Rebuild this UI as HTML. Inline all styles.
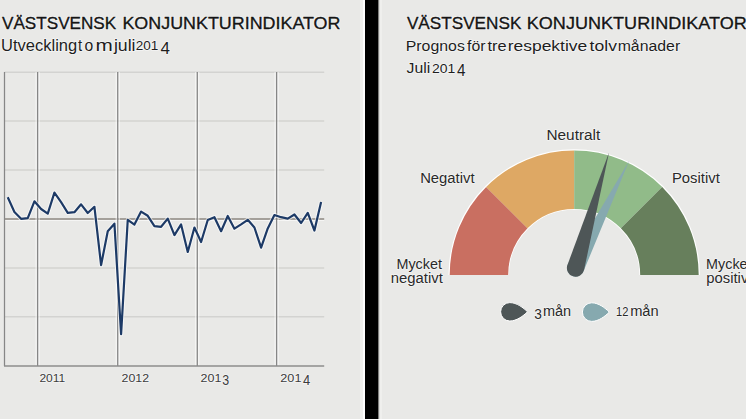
<!DOCTYPE html>
<html><head><meta charset="utf-8"><style>
html,body{margin:0;padding:0;background:#e9e9e7;}
body{width:746px;height:419px;overflow:hidden;position:relative;}
svg{position:absolute;left:0;top:0;}
text{font-family:"Liberation Sans",sans-serif;}
</style></head><body>
<svg width="746" height="419" viewBox="0 0 746 419">
<rect x="0" y="0" width="360" height="419" fill="#e9e9e7"/>
<rect x="360" y="0" width="3" height="419" fill="#efefed"/>
<rect x="363" y="0" width="2" height="419" fill="#ffffff"/>
<rect x="365" y="0" width="13.2" height="419" fill="#000000"/>
<rect x="378.2" y="0" width="1.2" height="419" fill="#707070"/>
<rect x="379.4" y="0" width="2.6" height="419" fill="#efefed"/>
<rect x="382" y="0" width="364" height="419" fill="#e9e9e7"/>

<g fill="none" stroke="#d3d3d1" stroke-width="1.4"><line x1="4.5" y1="72.2" x2="324.2" y2="72.2"/><line x1="4.5" y1="121" x2="324.2" y2="121"/><line x1="4.5" y1="170" x2="324.2" y2="170"/><line x1="4.5" y1="268" x2="324.2" y2="268"/><line x1="4.5" y1="316.8" x2="324.2" y2="316.8"/></g>
<line x1="4.5" y1="220.3" x2="324.2" y2="220.3" stroke="#ffffff" stroke-width="1" opacity="0.7"/>
<line x1="4.5" y1="219" x2="324.2" y2="219" stroke="#8c8781" stroke-width="1.6"/>
<g stroke="#ffffff" stroke-width="1" opacity="0.75"><line x1="36.1" y1="72" x2="36.1" y2="366"/><line x1="39.1" y1="72" x2="39.1" y2="366"/><line x1="116.2" y1="72" x2="116.2" y2="366"/><line x1="119.2" y1="72" x2="119.2" y2="366"/><line x1="195.8" y1="72" x2="195.8" y2="366"/><line x1="198.8" y1="72" x2="198.8" y2="366"/><line x1="275.1" y1="72" x2="275.1" y2="366"/><line x1="278.1" y1="72" x2="278.1" y2="366"/></g>
<g stroke="#868686" stroke-width="1.25"><line x1="4.5" y1="72" x2="4.5" y2="366"/><line x1="37.6" y1="72" x2="37.6" y2="366"/><line x1="117.7" y1="72" x2="117.7" y2="366"/><line x1="197.3" y1="72" x2="197.3" y2="366"/><line x1="276.6" y1="72" x2="276.6" y2="366"/></g>
<line x1="4" y1="366" x2="324.2" y2="366" stroke="#8c8c8c" stroke-width="1.4"/>
<polyline points="7.75,197.3 14.42,212.0 21.08,218.8 27.75,218.2 34.42,201.3 41.09,209.0 47.75,213.6 54.42,192.6 61.09,202.2 67.75,212.8 74.42,212.2 81.09,204.3 87.75,213.0 94.42,206.8 101.09,265.1 107.76,231.3 114.42,223.7 121.09,334.2 127.76,219.8 134.42,224.6 141.09,211.6 147.76,215.8 154.42,226.2 161.09,226.8 167.76,218.6 174.43,235.1 181.09,224.4 187.76,252.0 194.43,227.5 201.09,242.0 207.76,220.0 214.43,217.2 221.09,231.2 227.76,216.0 234.43,228.7 241.10,224.4 247.76,219.8 254.43,227.5 261.10,247.7 267.76,228.4 274.43,215.0 281.10,217.2 287.76,218.6 294.43,214.5 301.10,223.0 307.77,212.8 314.43,230.5 321.10,201.9" fill="none" stroke="#ffffff" stroke-opacity="0.6" stroke-width="4.2" stroke-linejoin="round"/>
<polyline points="7.75,197.3 14.42,212.0 21.08,218.8 27.75,218.2 34.42,201.3 41.09,209.0 47.75,213.6 54.42,192.6 61.09,202.2 67.75,212.8 74.42,212.2 81.09,204.3 87.75,213.0 94.42,206.8 101.09,265.1 107.76,231.3 114.42,223.7 121.09,334.2 127.76,219.8 134.42,224.6 141.09,211.6 147.76,215.8 154.42,226.2 161.09,226.8 167.76,218.6 174.43,235.1 181.09,224.4 187.76,252.0 194.43,227.5 201.09,242.0 207.76,220.0 214.43,217.2 221.09,231.2 227.76,216.0 234.43,228.7 241.10,224.4 247.76,219.8 254.43,227.5 261.10,247.7 267.76,228.4 274.43,215.0 281.10,217.2 287.76,218.6 294.43,214.5 301.10,223.0 307.77,212.8 314.43,230.5 321.10,201.9" fill="none" stroke="#1d3a66" stroke-width="2.2" stroke-linejoin="round"/>
<text x="39.4" y="382.1" font-size="11.6" font-weight="normal" textLength="25.9" lengthAdjust="spacingAndGlyphs" fill="#ffffff" stroke="#ffffff" stroke-width="1.6" stroke-linejoin="round" opacity="0.55">2011</text><text x="39.4" y="382.1" font-size="11.6" font-weight="normal" textLength="25.9" lengthAdjust="spacingAndGlyphs" fill="#3c3c3c">2011</text>
<text x="121.6" y="382.1" font-size="11.6" font-weight="normal" textLength="27.5" lengthAdjust="spacingAndGlyphs" fill="#ffffff" stroke="#ffffff" stroke-width="1.6" stroke-linejoin="round" opacity="0.55">2012</text><text x="121.6" y="382.1" font-size="11.6" font-weight="normal" textLength="27.5" lengthAdjust="spacingAndGlyphs" fill="#3c3c3c">2012</text>
<text x="200.62" y="382.1" font-size="11.6" font-weight="normal" textLength="20.85" lengthAdjust="spacingAndGlyphs" fill="#ffffff" stroke="#ffffff" stroke-width="1.6" stroke-linejoin="round" opacity="0.55">201</text><text x="200.62" y="382.1" font-size="11.6" font-weight="normal" textLength="20.85" lengthAdjust="spacingAndGlyphs" fill="#3c3c3c">201</text>
<text x="222.37" y="384.8" font-size="15" font-weight="normal" textLength="6.91" lengthAdjust="spacingAndGlyphs" fill="#ffffff" stroke="#ffffff" stroke-width="1.6" stroke-linejoin="round" opacity="0.55">3</text><text x="222.37" y="384.8" font-size="15" font-weight="normal" textLength="6.91" lengthAdjust="spacingAndGlyphs" fill="#3c3c3c">3</text>
<text x="280.31" y="382.1" font-size="11.6" font-weight="normal" textLength="21.17" lengthAdjust="spacingAndGlyphs" fill="#ffffff" stroke="#ffffff" stroke-width="1.6" stroke-linejoin="round" opacity="0.55">201</text><text x="280.31" y="382.1" font-size="11.6" font-weight="normal" textLength="21.17" lengthAdjust="spacingAndGlyphs" fill="#3c3c3c">201</text>
<text x="302.9" y="384.5" font-size="15" font-weight="normal" textLength="7.2" lengthAdjust="spacingAndGlyphs" fill="#ffffff" stroke="#ffffff" stroke-width="1.6" stroke-linejoin="round" opacity="0.55">4</text><text x="302.9" y="384.5" font-size="15" font-weight="normal" textLength="7.2" lengthAdjust="spacingAndGlyphs" fill="#3c3c3c">4</text>
<text x="2.0" y="28.7" font-size="17" font-weight="normal" textLength="114.18" lengthAdjust="spacingAndGlyphs" fill="#ffffff" stroke="#ffffff" stroke-width="1.9500000000000002" stroke-linejoin="round" opacity="0.55">VÄSTSVENSK</text><text x="2.0" y="28.7" font-size="17" font-weight="normal" textLength="114.18" lengthAdjust="spacingAndGlyphs" fill="#151515" stroke="#151515" stroke-width="0.35">VÄSTSVENSK</text>
<text x="122.45" y="28.7" font-size="17" font-weight="normal" textLength="218.03" lengthAdjust="spacingAndGlyphs" fill="#ffffff" stroke="#ffffff" stroke-width="1.9500000000000002" stroke-linejoin="round" opacity="0.55">KONJUNKTURINDIKATOR</text><text x="122.45" y="28.7" font-size="17" font-weight="normal" textLength="218.03" lengthAdjust="spacingAndGlyphs" fill="#151515" stroke="#151515" stroke-width="0.35">KONJUNKTURINDIKATOR</text>
<text x="1.1" y="50.5" font-size="16.5" font-weight="normal" textLength="76.12" lengthAdjust="spacingAndGlyphs" fill="#ffffff" stroke="#ffffff" stroke-width="1.6" stroke-linejoin="round" opacity="0.55">Utveckling</text><text x="1.1" y="50.5" font-size="16.5" font-weight="normal" textLength="76.12" lengthAdjust="spacingAndGlyphs" fill="#1e1e1e">Utveckling</text>
<text x="78.0" y="50.5" font-size="16.5" font-weight="normal" textLength="4.13" lengthAdjust="spacingAndGlyphs" fill="#ffffff" stroke="#ffffff" stroke-width="1.6" stroke-linejoin="round" opacity="0.55">t</text><text x="78.0" y="50.5" font-size="16.5" font-weight="normal" textLength="4.13" lengthAdjust="spacingAndGlyphs" fill="#1e1e1e">t</text>
<text x="84.45" y="50.5" font-size="16.5" font-weight="normal" textLength="8.73" lengthAdjust="spacingAndGlyphs" fill="#ffffff" stroke="#ffffff" stroke-width="1.6" stroke-linejoin="round" opacity="0.55">o</text><text x="84.45" y="50.5" font-size="16.5" font-weight="normal" textLength="8.73" lengthAdjust="spacingAndGlyphs" fill="#1e1e1e">o</text>
<text x="95.44" y="50.5" font-size="16.5" font-weight="normal" textLength="17.3" lengthAdjust="spacingAndGlyphs" fill="#ffffff" stroke="#ffffff" stroke-width="1.6" stroke-linejoin="round" opacity="0.55">m</text><text x="95.44" y="50.5" font-size="16.5" font-weight="normal" textLength="17.3" lengthAdjust="spacingAndGlyphs" fill="#1e1e1e">m</text>
<text x="113.9" y="50.5" font-size="16.5" font-weight="normal" textLength="21.68" lengthAdjust="spacingAndGlyphs" fill="#ffffff" stroke="#ffffff" stroke-width="1.6" stroke-linejoin="round" opacity="0.55">juli</text><text x="113.9" y="50.5" font-size="16.5" font-weight="normal" textLength="21.68" lengthAdjust="spacingAndGlyphs" fill="#1e1e1e">juli</text>
<text x="135.77" y="50.4" font-size="12" font-weight="normal" textLength="22.56" lengthAdjust="spacingAndGlyphs" fill="#ffffff" stroke="#ffffff" stroke-width="1.6" stroke-linejoin="round" opacity="0.55">201</text><text x="135.77" y="50.4" font-size="12" font-weight="normal" textLength="22.56" lengthAdjust="spacingAndGlyphs" fill="#1e1e1e">201</text>
<text x="160.5" y="53.9" font-size="17" font-weight="normal" textLength="9.47" lengthAdjust="spacingAndGlyphs" fill="#ffffff" stroke="#ffffff" stroke-width="1.6" stroke-linejoin="round" opacity="0.55">4</text><text x="160.5" y="53.9" font-size="17" font-weight="normal" textLength="9.47" lengthAdjust="spacingAndGlyphs" fill="#1e1e1e">4</text>
<text x="406.9" y="29.1" font-size="17" font-weight="normal" textLength="114.48" lengthAdjust="spacingAndGlyphs" fill="#ffffff" stroke="#ffffff" stroke-width="1.9500000000000002" stroke-linejoin="round" opacity="0.55">VÄSTSVENSK</text><text x="406.9" y="29.1" font-size="17" font-weight="normal" textLength="114.48" lengthAdjust="spacingAndGlyphs" fill="#151515" stroke="#151515" stroke-width="0.35">VÄSTSVENSK</text>
<text x="526.74" y="29.1" font-size="17" font-weight="normal" textLength="220.15" lengthAdjust="spacingAndGlyphs" fill="#ffffff" stroke="#ffffff" stroke-width="1.9500000000000002" stroke-linejoin="round" opacity="0.55">KONJUNKTURINDIKATOR</text><text x="526.74" y="29.1" font-size="17" font-weight="normal" textLength="220.15" lengthAdjust="spacingAndGlyphs" fill="#151515" stroke="#151515" stroke-width="0.35">KONJUNKTURINDIKATOR</text>
<text x="405.78" y="50.7" font-size="15.5" font-weight="normal" textLength="59.07" lengthAdjust="spacingAndGlyphs" fill="#ffffff" stroke="#ffffff" stroke-width="1.6" stroke-linejoin="round" opacity="0.55">Prognos</text><text x="405.78" y="50.7" font-size="15.5" font-weight="normal" textLength="59.07" lengthAdjust="spacingAndGlyphs" fill="#1e1e1e">Prognos</text>
<text x="467.1" y="50.7" font-size="15.5" font-weight="normal" textLength="18.5" lengthAdjust="spacingAndGlyphs" fill="#ffffff" stroke="#ffffff" stroke-width="1.6" stroke-linejoin="round" opacity="0.55">för</text><text x="467.1" y="50.7" font-size="15.5" font-weight="normal" textLength="18.5" lengthAdjust="spacingAndGlyphs" fill="#1e1e1e">för</text>
<text x="487.5" y="50.7" font-size="15.5" font-weight="normal" textLength="19.1" lengthAdjust="spacingAndGlyphs" fill="#ffffff" stroke="#ffffff" stroke-width="1.6" stroke-linejoin="round" opacity="0.55">tre</text><text x="487.5" y="50.7" font-size="15.5" font-weight="normal" textLength="19.1" lengthAdjust="spacingAndGlyphs" fill="#1e1e1e">tre</text>
<text x="507.67" y="50.7" font-size="15.5" font-weight="normal" textLength="79.67" lengthAdjust="spacingAndGlyphs" fill="#ffffff" stroke="#ffffff" stroke-width="1.6" stroke-linejoin="round" opacity="0.55">respektive</text><text x="507.67" y="50.7" font-size="15.5" font-weight="normal" textLength="79.67" lengthAdjust="spacingAndGlyphs" fill="#1e1e1e">respektive</text>
<text x="589.6" y="50.7" font-size="15.5" font-weight="normal" textLength="27.34" lengthAdjust="spacingAndGlyphs" fill="#ffffff" stroke="#ffffff" stroke-width="1.6" stroke-linejoin="round" opacity="0.55">tolv</text><text x="589.6" y="50.7" font-size="15.5" font-weight="normal" textLength="27.34" lengthAdjust="spacingAndGlyphs" fill="#1e1e1e">tolv</text>
<text x="617.68" y="50.7" font-size="15.5" font-weight="normal" textLength="62.51" lengthAdjust="spacingAndGlyphs" fill="#ffffff" stroke="#ffffff" stroke-width="1.6" stroke-linejoin="round" opacity="0.55">månader</text><text x="617.68" y="50.7" font-size="15.5" font-weight="normal" textLength="62.51" lengthAdjust="spacingAndGlyphs" fill="#1e1e1e">månader</text>
<text x="406.6" y="73.1" font-size="15.5" font-weight="normal" textLength="23.69" lengthAdjust="spacingAndGlyphs" fill="#ffffff" stroke="#ffffff" stroke-width="1.6" stroke-linejoin="round" opacity="0.55">Juli</text><text x="406.6" y="73.1" font-size="15.5" font-weight="normal" textLength="23.69" lengthAdjust="spacingAndGlyphs" fill="#1e1e1e">Juli</text>
<text x="431.94" y="72.6" font-size="12" font-weight="normal" textLength="23.3" lengthAdjust="spacingAndGlyphs" fill="#ffffff" stroke="#ffffff" stroke-width="1.6" stroke-linejoin="round" opacity="0.55">201</text><text x="431.94" y="72.6" font-size="12" font-weight="normal" textLength="23.3" lengthAdjust="spacingAndGlyphs" fill="#1e1e1e">201</text>
<text x="457.0" y="76.2" font-size="17" font-weight="normal" textLength="8.52" lengthAdjust="spacingAndGlyphs" fill="#ffffff" stroke="#ffffff" stroke-width="1.6" stroke-linejoin="round" opacity="0.55">4</text><text x="457.0" y="76.2" font-size="17" font-weight="normal" textLength="8.52" lengthAdjust="spacingAndGlyphs" fill="#1e1e1e">4</text>

<path d="M449.70,275 A124.5,124.5 0 0 1 698.70,275" fill="none" stroke="#ffffff" stroke-width="2.4"/><path d="M508.20,275 A66,66 0 0 1 640.20,275" fill="none" stroke="#ffffff" stroke-width="1.6"/>
<path d="M449.70,275.00 A124.5,124.5 0 0 1 486.17,186.97 L527.53,228.33 A66,66 0 0 0 508.20,275.00 Z" fill="#c96f61"/><path d="M486.17,186.97 A124.5,124.5 0 0 1 574.20,150.50 L574.20,209.00 A66,66 0 0 0 527.53,228.33 Z" fill="#dea864"/><path d="M574.20,150.50 A124.5,124.5 0 0 1 662.23,186.97 L620.87,228.33 A66,66 0 0 0 574.20,209.00 Z" fill="#91bb89"/><path d="M662.23,186.97 A124.5,124.5 0 0 1 698.70,275.00 L640.20,275.00 A66,66 0 0 0 620.87,228.33 Z" fill="#677f5c"/>
<path d="M629.00,161.00 L583.55,271.28 A8.6,8.6 0 1 1 568.20,263.62 Z" fill="#86a9af"/>
<path d="M609.00,152.60 L584.11,269.81 A8.7,8.7 0 1 1 567.44,264.98 Z" fill="#4e5657"/>
<text x="546.41" y="139.8" font-size="15.5" font-weight="normal" textLength="53.87" lengthAdjust="spacingAndGlyphs" fill="#ffffff" stroke="#ffffff" stroke-width="1.6" stroke-linejoin="round" opacity="0.55">Neutralt</text><text x="546.41" y="139.8" font-size="15.5" font-weight="normal" textLength="53.87" lengthAdjust="spacingAndGlyphs" fill="#2a2a2a">Neutralt</text>
<text x="420.14" y="182.8" font-size="15.5" font-weight="normal" textLength="54.44" lengthAdjust="spacingAndGlyphs" fill="#ffffff" stroke="#ffffff" stroke-width="1.6" stroke-linejoin="round" opacity="0.55">Negativt</text><text x="420.14" y="182.8" font-size="15.5" font-weight="normal" textLength="54.44" lengthAdjust="spacingAndGlyphs" fill="#2a2a2a">Negativt</text>
<text x="671.94" y="182.9" font-size="15.5" font-weight="normal" textLength="47.83" lengthAdjust="spacingAndGlyphs" fill="#ffffff" stroke="#ffffff" stroke-width="1.6" stroke-linejoin="round" opacity="0.55">Positivt</text><text x="671.94" y="182.9" font-size="15.5" font-weight="normal" textLength="47.83" lengthAdjust="spacingAndGlyphs" fill="#2a2a2a">Positivt</text>
<text x="396.47" y="269.2" font-size="15.5" font-weight="normal" textLength="45.51" lengthAdjust="spacingAndGlyphs" fill="#ffffff" stroke="#ffffff" stroke-width="1.6" stroke-linejoin="round" opacity="0.55">Mycket</text><text x="396.47" y="269.2" font-size="15.5" font-weight="normal" textLength="45.51" lengthAdjust="spacingAndGlyphs" fill="#2a2a2a">Mycket</text>
<text x="390.74" y="283.1" font-size="15.5" font-weight="normal" textLength="52.04" lengthAdjust="spacingAndGlyphs" fill="#ffffff" stroke="#ffffff" stroke-width="1.6" stroke-linejoin="round" opacity="0.55">negativt</text><text x="390.74" y="283.1" font-size="15.5" font-weight="normal" textLength="52.04" lengthAdjust="spacingAndGlyphs" fill="#2a2a2a">negativt</text>
<text x="706.07" y="269.2" font-size="15.5" font-weight="normal" textLength="45.51" lengthAdjust="spacingAndGlyphs" fill="#ffffff" stroke="#ffffff" stroke-width="1.6" stroke-linejoin="round" opacity="0.55">Mycket</text><text x="706.07" y="269.2" font-size="15.5" font-weight="normal" textLength="45.51" lengthAdjust="spacingAndGlyphs" fill="#2a2a2a">Mycket</text>
<text x="706.24" y="283.1" font-size="15.5" font-weight="normal" textLength="46.2" lengthAdjust="spacingAndGlyphs" fill="#ffffff" stroke="#ffffff" stroke-width="1.6" stroke-linejoin="round" opacity="0.55">positivt</text><text x="706.24" y="283.1" font-size="15.5" font-weight="normal" textLength="46.2" lengthAdjust="spacingAndGlyphs" fill="#2a2a2a">positivt</text>

<path d="M527.50,311.80 C523.50,307.80 516.70,302.60 509.80,302.60 A9.2,9.2 0 0 0 509.80,321.00 C516.70,321.00 523.50,315.80 527.50,311.80 Z" fill="#4e5657" stroke="#ffffff" stroke-width="1"/>
<path d="M609.30,312.10 C605.30,308.10 598.68,302.80 591.70,302.80 A9.3,9.3 0 0 0 591.70,321.40 C598.68,321.40 605.30,316.10 609.30,312.10 Z" fill="#86a9af" stroke="#ffffff" stroke-width="1"/>
<text x="534.19" y="319.2" font-size="15" font-weight="normal" textLength="7.63" lengthAdjust="spacingAndGlyphs" fill="#ffffff" stroke="#ffffff" stroke-width="1.6" stroke-linejoin="round" opacity="0.55">3</text><text x="534.19" y="319.2" font-size="15" font-weight="normal" textLength="7.63" lengthAdjust="spacingAndGlyphs" fill="#2a2a2a">3</text>
<text x="542.96" y="316.1" font-size="15.5" font-weight="normal" textLength="28.22" lengthAdjust="spacingAndGlyphs" fill="#ffffff" stroke="#ffffff" stroke-width="1.6" stroke-linejoin="round" opacity="0.55">mån</text><text x="542.96" y="316.1" font-size="15.5" font-weight="normal" textLength="28.22" lengthAdjust="spacingAndGlyphs" fill="#2a2a2a">mån</text>
<text x="616.08" y="316.1" font-size="12" font-weight="normal" textLength="12.36" lengthAdjust="spacingAndGlyphs" fill="#ffffff" stroke="#ffffff" stroke-width="1.6" stroke-linejoin="round" opacity="0.55">12</text><text x="616.08" y="316.1" font-size="12" font-weight="normal" textLength="12.36" lengthAdjust="spacingAndGlyphs" fill="#2a2a2a">12</text>
<text x="630.15" y="316.1" font-size="15.5" font-weight="normal" textLength="28.54" lengthAdjust="spacingAndGlyphs" fill="#ffffff" stroke="#ffffff" stroke-width="1.6" stroke-linejoin="round" opacity="0.55">mån</text><text x="630.15" y="316.1" font-size="15.5" font-weight="normal" textLength="28.54" lengthAdjust="spacingAndGlyphs" fill="#2a2a2a">mån</text>

</svg>
</body></html>
